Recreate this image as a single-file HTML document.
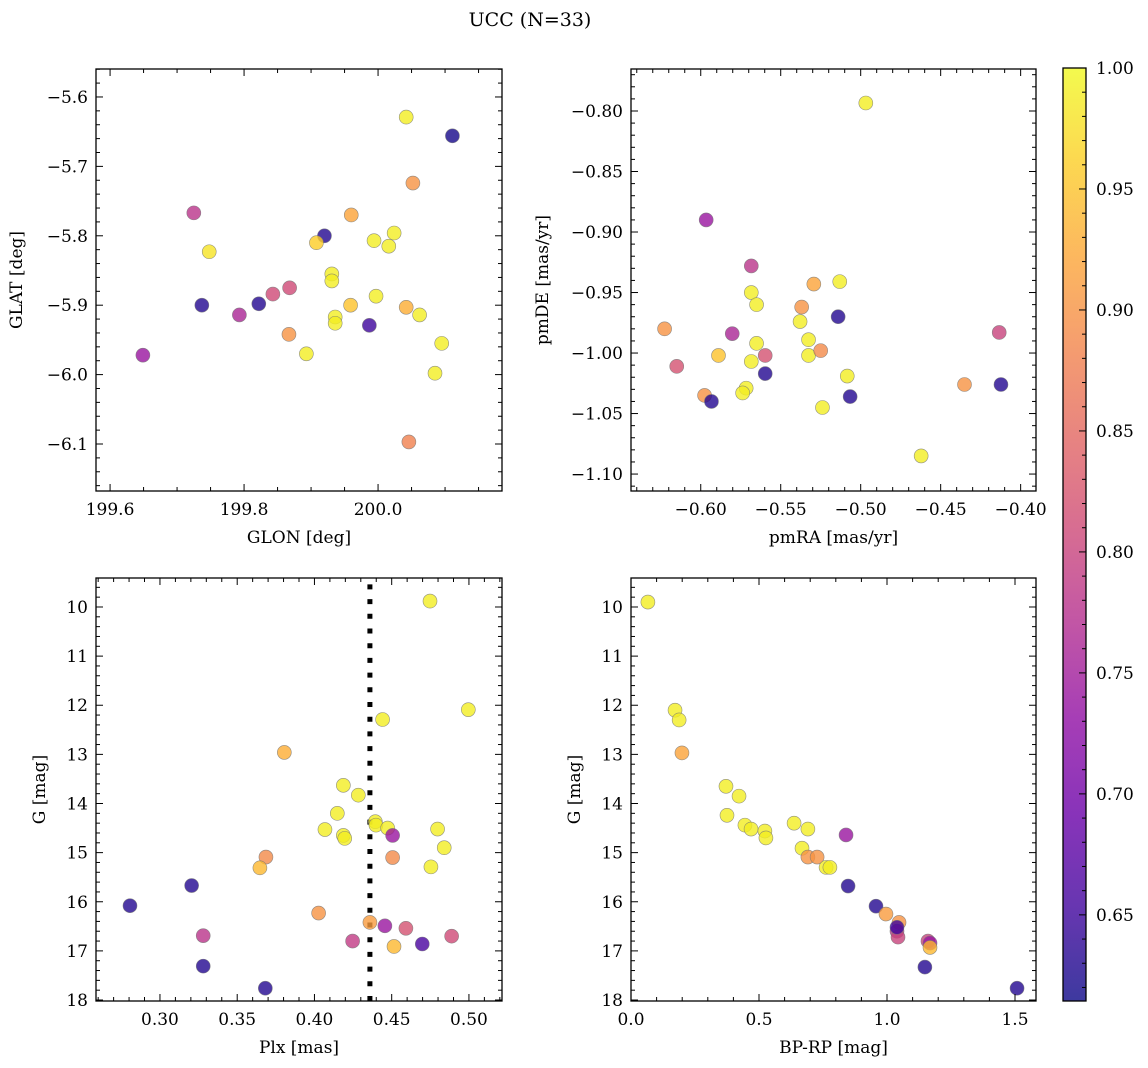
<!DOCTYPE html>
<html><head><meta charset="utf-8">
<style>
html,body{margin:0;padding:0;background:#fff;}
svg{display:block;font-family:"DejaVu Serif","Liberation Serif",serif;}
</style></head>
<body>
<svg id="fig" width="1148" height="1068" viewBox="0 0 1148 1068" xmlns="http://www.w3.org/2000/svg">
<text x="530" y="26" text-anchor="middle" font-size="19">UCC (N=33)</text>
</svg>
<script>
// ---- data ----
const tlGlon=[200.042,200.111,200.052,199.725,199.960,199.748,199.920,199.908,199.994,200.024,200.016,199.931,199.931,199.737,199.868,199.843,199.822,199.959,199.997,199.936,199.936,199.987,199.793,199.867,200.042,200.062,199.649,199.893,200.095,200.085,200.046];
const tlGlat=[-5.629,-5.656,-5.724,-5.767,-5.770,-5.823,-5.800,-5.810,-5.807,-5.796,-5.815,-5.855,-5.865,-5.900,-5.875,-5.884,-5.898,-5.900,-5.887,-5.917,-5.926,-5.929,-5.914,-5.942,-5.903,-5.914,-5.972,-5.970,-5.955,-5.998,-6.097];
const tlProb=[0.99,0.62,0.90,0.78,0.92,0.98,0.63,0.96,0.99,0.99,0.99,0.99,0.99,0.63,0.81,0.81,0.63,0.95,0.99,0.99,0.99,0.65,0.76,0.90,0.93,0.99,0.74,0.99,0.99,0.99,0.88];
const trPmra=[-0.4968,-0.5966,-0.6226,-0.5684,-0.5684,-0.5803,-0.5651,-0.5293,-0.5131,-0.5369,-0.5379,-0.5141,-0.5326,-0.5651,-0.5889,-0.5597,-0.5326,-0.5250,-0.5684,-0.5597,-0.6150,-0.5084,-0.5716,-0.5738,-0.5976,-0.5933,-0.5239,-0.5066,-0.4351,-0.4123,-0.4134,-0.4622];
const trPmde=[-0.7934,-0.890,-0.980,-0.928,-0.950,-0.984,-0.960,-0.943,-0.941,-0.962,-0.974,-0.970,-0.989,-0.992,-1.002,-1.002,-1.002,-0.998,-1.007,-1.017,-1.011,-1.019,-1.029,-1.033,-1.035,-1.040,-1.045,-1.036,-1.026,-1.026,-0.983,-1.085];
const trProb=[0.99,0.74,0.90,0.78,0.99,0.76,0.99,0.92,0.99,0.90,0.99,0.63,0.99,0.99,0.95,0.82,0.99,0.89,0.99,0.63,0.82,0.99,0.99,0.99,0.90,0.63,0.99,0.63,0.90,0.63,0.80,0.99];
const blPlx=[0.4748,0.4996,0.4441,0.3805,0.4187,0.4284,0.4148,0.4394,0.4398,0.4474,0.4068,0.4187,0.4196,0.4506,0.4797,0.4840,0.4754,0.3686,0.3647,0.4506,0.3205,0.2806,0.4027,0.4359,0.4456,0.4592,0.3280,0.4888,0.4247,0.4698,0.4515,0.3280,0.3682];
const blG=[9.88,12.09,12.29,12.96,13.63,13.83,14.20,14.37,14.44,14.50,14.53,14.65,14.71,14.65,14.52,14.90,15.29,15.09,15.31,15.10,15.67,16.08,16.23,16.42,16.49,16.54,16.69,16.70,16.80,16.86,16.91,17.31,17.76];
const blProb=[0.99,0.99,0.99,0.93,0.99,0.99,0.99,0.99,0.99,0.99,0.99,0.99,0.99,0.74,0.99,0.99,0.99,0.89,0.94,0.89,0.63,0.63,0.90,0.91,0.74,0.82,0.78,0.81,0.79,0.66,0.94,0.63,0.63];
const brBprp=[0.066,0.172,0.188,0.199,0.371,0.422,0.375,0.445,0.469,0.523,0.527,0.637,0.691,0.840,0.668,0.691,0.727,0.762,0.777,0.848,0.957,0.996,1.047,1.039,1.043,1.039,1.160,1.168,1.168,1.148,1.508];
const brG=[9.90,12.10,12.30,12.97,13.65,13.85,14.24,14.44,14.52,14.56,14.70,14.40,14.52,14.64,14.91,15.09,15.09,15.30,15.30,15.68,16.09,16.25,16.42,16.60,16.72,16.52,16.80,16.84,16.93,17.33,17.76];
const brProb=[0.99,0.99,0.99,0.92,0.99,0.99,0.99,0.99,0.99,0.99,0.99,0.99,0.99,0.74,0.99,0.90,0.90,0.99,0.99,0.63,0.63,0.91,0.90,0.78,0.80,0.65,0.80,0.74,0.94,0.63,0.63];
const plxLine=[0.4359];
const cbTicks=["0.65","0.70","0.75","0.80","0.85","0.90","0.95","1.00"];
// ---- colormap ----
const VMIN=0.6144,VMAX=1.0;
const stops=["#0d0887","#41049d","#6a00a8","#8f0da4","#b12a90","#cc4778","#e16462","#f2844b","#fca636","#fcce25","#f0f921"];
function hex(h){return [1,3,5].map(i=>parseInt(h.substr(i,2),16));}
function cmap(v){let t=(v-VMIN)/(VMAX-VMIN);t=Math.max(0,Math.min(1,t));const f=t*10,i=Math.min(9,Math.floor(f)),r=f-i;const a=hex(stops[i]),b=hex(stops[i+1]);return "rgb("+a.map((c,k)=>Math.round(c+(b[k]-c)*r)).join(",")+")";}
const NS="http://www.w3.org/2000/svg";
const svg=document.getElementById("fig");
function el(tag,attrs,parent){const e=document.createElementNS(NS,tag);for(const k in attrs)e.setAttribute(k,attrs[k]);(parent||svg).appendChild(e);return e;}
function fmt(v,d){let s=v.toFixed(d);if(v<0)s="\u2212"+s.slice(1);return s;}
function panel(o){
  const g=el("g",{});
  
  
  const sx=v=>o.x0+(v-o.xlim[0])/(o.xlim[1]-o.xlim[0])*(o.x1-o.x0);
  const sy=v=>o.y0+(v-o.ylim[0])/(o.ylim[1]-o.ylim[0])*(o.y1-o.y0);
  if(o.vline){const l=el("line",{x1:sx(o.vline),x2:sx(o.vline),y1:o.y1,y2:o.y0,stroke:"#000","stroke-width":5,"stroke-dasharray":"5,9.7"},g);
    
    }
  for(let i=0;i<o.xs.length;i++){
    const c=el("circle",{cx:sx(o.xs[i]),cy:sy(o.ys[i]),r:7,fill:cmap(o.cs[i]),"fill-opacity":0.8,stroke:"#777","stroke-width":0.6,"stroke-opacity":0.8},g);
    
    
  }
  el("rect",{x:o.x0,y:Math.min(o.y0,o.y1),width:o.x1-o.x0,height:Math.abs(o.y1-o.y0),fill:"none",stroke:"#000","stroke-width":1.3},g);
  const top=Math.min(o.y0,o.y1),bot=Math.max(o.y0,o.y1);
  const xs0=Math.ceil(o.xlim[0]/o.xminor-1e-6);
  for(let k=xs0;k*o.xminor<=o.xlim[1]+1e-9;k++){
    const v=k*o.xminor,X=sx(v);const maj=Math.abs(v/o.xmajor-Math.round(v/o.xmajor))<1e-6;const L=maj?7:4;
    el("line",{x1:X,x2:X,y1:bot,y2:bot-L,stroke:"#000","stroke-width":1},g);
    el("line",{x1:X,x2:X,y1:top,y2:top+L,stroke:"#000","stroke-width":1},g);
    if(maj){const t=el("text",{x:X,y:bot+24,"text-anchor":"middle","font-size":17},g);t.textContent=fmt(v,o.xdec);
      
      }
  }
  const ys0=Math.ceil(Math.min(o.ylim[0],o.ylim[1])/o.yminor-1e-6);const ymax=Math.max(o.ylim[0],o.ylim[1]);
  for(let k=ys0;k*o.yminor<=ymax+1e-9;k++){
    const v=k*o.yminor,Y=sy(v);const maj=Math.abs(v/o.ymajor-Math.round(v/o.ymajor))<1e-6;const L=maj?7:4;
    el("line",{x1:o.x0,x2:o.x0+L,y1:Y,y2:Y,stroke:"#000","stroke-width":1},g);
    el("line",{x1:o.x1,x2:o.x1-L,y1:Y,y2:Y,stroke:"#000","stroke-width":1},g);
    if(maj){const t=el("text",{x:o.x0-8,y:Y+6,"text-anchor":"end","font-size":17},g);t.textContent=fmt(v,o.ydec);
      
      }
  }
  const xl=el("text",{x:(o.x0+o.x1)/2,y:bot+52,"text-anchor":"middle","font-size":17},g);xl.textContent=o.xlabel;
  
  
  const yl=el("text",{x:0,y:0,"text-anchor":"middle","font-size":17,transform:"translate("+o.ylx+","+(top+bot)/2+") rotate(-90)"},g);yl.textContent=o.ylabel;
  
  
}
panel({name:"glon-glat-panel",x0:96,x1:502,y0:69,y1:491,xlim:[199.579,200.185],ylim:[-5.5597,-6.1677],xmajor:0.2,xminor:0.05,ymajor:0.1,yminor:0.02,xdec:1,ydec:1,xs:tlGlon,ys:tlGlat,cs:tlProb,xlabel:"GLON [deg]",ylabel:"GLAT [deg]",ylx:22});
panel({name:"pm-panel",x0:631,x1:1036,y0:69,y1:491,xlim:[-0.6436,-0.3904],ylim:[-0.7653,-1.114],xmajor:0.05,xminor:0.01,ymajor:0.05,yminor:0.01,xdec:2,ydec:2,xs:trPmra,ys:trPmde,cs:trProb,xlabel:"pmRA [mas/yr]",ylabel:"pmDE [mas/yr]",ylx:548});
panel({name:"plx-g-panel",x0:96,x1:502,y0:578,y1:1001,xlim:[0.2586,0.5214],ylim:[9.41,18.02],xmajor:0.05,xminor:0.01,ymajor:1,yminor:0.2,xdec:2,ydec:0,xs:blPlx,ys:blG,cs:blProb,xlabel:"Plx [mas]",ylabel:"G [mag]",ylx:45,vline:plxLine[0]});
panel({name:"cmd-panel",x0:631,x1:1036,y0:578,y1:1001,xlim:[0,1.582],ylim:[9.41,18.02],xmajor:0.5,xminor:0.1,ymajor:1,yminor:0.2,xdec:1,ydec:0,xs:brBprp,ys:brG,cs:brProb,xlabel:"BP-RP [mag]",ylabel:"G [mag]",ylx:580});
// colorbar
const cb=el("g",{});


const defs=el("defs",{},cb);const lg=el("linearGradient",{id:"cg",x1:0,y1:1,x2:0,y2:0},defs);
for(let i=0;i<=40;i++){const v=VMIN+(VMAX-VMIN)*i/40;el("stop",{offset:i/40,"stop-color":cmap(v),"stop-opacity":0.8},lg);}
const cbY0=68,cbY1=1001;const cy=v=>cbY1-(v-VMIN)/(VMAX-VMIN)*(cbY1-cbY0);
el("rect",{x:1063,y:cbY0,width:23,height:cbY1-cbY0,fill:"url(#cg)",stroke:"#000","stroke-width":1.3},cb);
for(let k=62;k<=100;k++){const v=k/100,Y=cy(v);const maj=k%5===0;el("line",{x1:1086,x2:1086-(maj?7:4),y1:Y,y2:Y,stroke:"#000","stroke-width":1},cb);}
for(const s of cbTicks){const t=el("text",{x:1096,y:cy(parseFloat(s))+6,"font-size":17},cb);t.textContent=s;
  
  }
</script>
</body></html>
